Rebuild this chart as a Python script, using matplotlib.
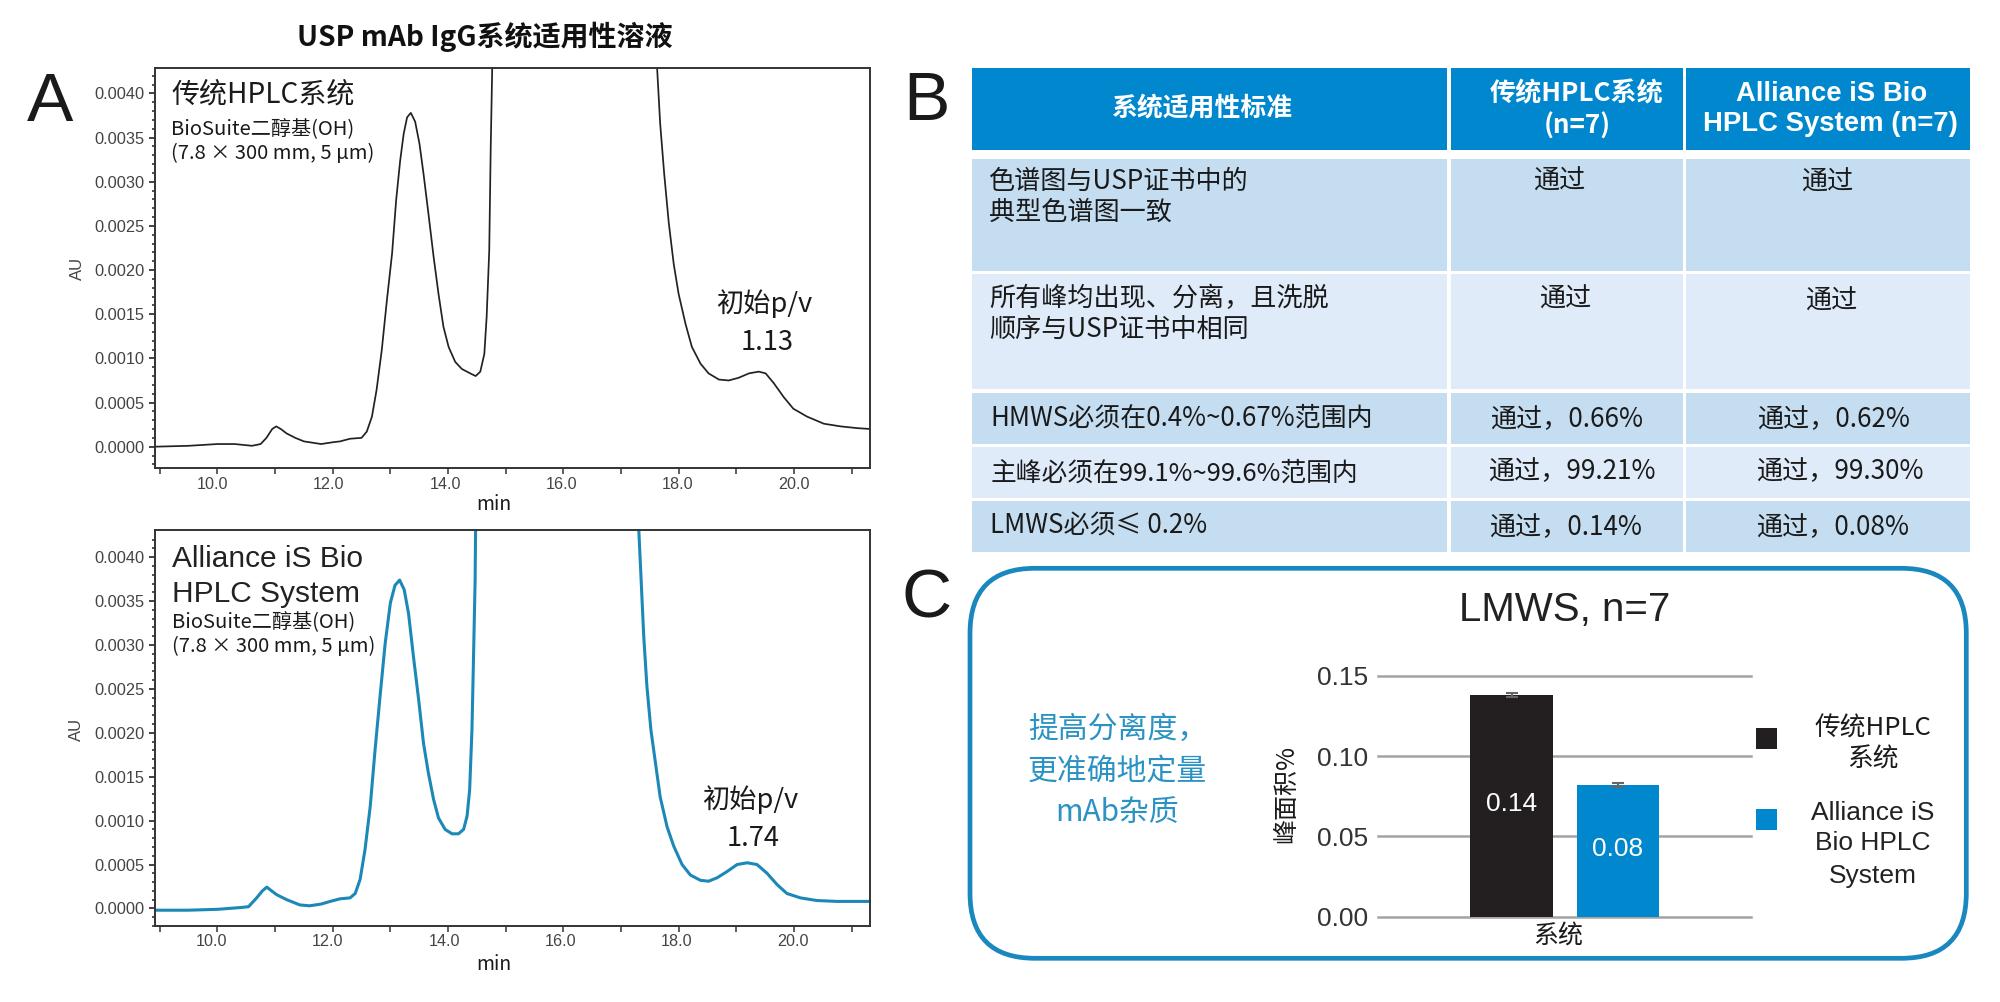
import matplotlib
matplotlib.use("Agg")
import matplotlib.pyplot as plt
from matplotlib.patches import Rectangle, FancyBboxPatch
from matplotlib.transforms import ScaledTranslation

CJK = ['Noto Sans CJK SC', 'DejaVu Sans']
ARIAL = ['Liberation Sans', 'Noto Sans CJK SC']
plt.rcParams['font.family'] = CJK

# ---- chromatogram data ----
t_a = [8.92, 9.5, 10.0, 10.3, 10.6, 10.75, 10.85, 10.95, 11.02, 11.1, 11.2, 11.35, 11.5, 11.8, 12.0, 12.128, 12.3, 12.5, 12.59, 12.68, 12.76,
       12.85, 12.94, 13.03, 13.1, 13.17, 13.23, 13.29, 13.355, 13.43, 13.505, 13.575, 13.66, 13.75, 13.835, 13.92, 14.01, 14.125, 14.24,
       14.385, 14.48, 14.56, 14.63, 14.67, 14.715, 14.74, 14.767, 15.5,
       16.8, 17.626, 17.68, 17.75, 17.83, 17.915, 18.0, 18.12, 18.23, 18.38, 18.52, 18.7, 18.87, 19.04, 19.22, 19.39, 19.51, 19.65, 19.825,
       19.99, 20.23, 20.52, 20.81, 21.1, 21.33]
au_a = [0.0, 0.00001, 0.00003, 0.00003, 0.00001, 0.00003, 0.0001, 0.0002, 0.00023, 0.0002, 0.00015, 0.0001, 0.00006, 0.00003, 0.00005, 0.00006, 0.00009, 0.0001, 0.00017, 0.00034, 0.00064,
        0.00109, 0.00166, 0.00219, 0.00279, 0.00324, 0.00354, 0.00373, 0.00378, 0.00368, 0.00343, 0.00309, 0.00264, 0.00215, 0.00173, 0.00136, 0.00113, 0.00096, 0.00088,
        0.00083, 0.0008, 0.00085, 0.00105, 0.00147, 0.00222, 0.00336, 0.0043, 0.05,
        0.05, 0.0043, 0.00366, 0.00309, 0.00253, 0.00207, 0.00173, 0.00139, 0.00113, 0.00094, 0.00083, 0.00076, 0.00075, 0.00078, 0.00083, 0.00085, 0.00083, 0.00072, 0.00056,
        0.00043, 0.00034, 0.00026, 0.00023, 0.00021, 0.0002]

t_b = [8.92, 9.5, 10.0, 10.4, 10.54, 10.68, 10.78, 10.856, 10.94, 11.03, 11.2, 11.43, 11.6, 11.8, 11.955, 12.13, 12.3, 12.39, 12.475, 12.56, 12.65,
       12.735, 12.82, 12.91, 13.0, 13.08, 13.16, 13.24, 13.315, 13.4, 13.49, 13.575, 13.66, 13.75, 13.835, 13.95, 14.07, 14.18, 14.27,
       14.33, 14.375, 14.415, 14.44, 14.47, 14.478, 15.3,
       16.5, 17.31, 17.35, 17.395, 17.45, 17.52, 17.6, 17.68, 17.8, 17.915, 18.06, 18.205, 18.38, 18.52, 18.67, 18.84, 19.015, 19.19, 19.36,
       19.535, 19.71, 19.88, 20.115, 20.4, 20.75, 21.33]
au_b = [-0.00002, -0.00002, -0.00001, 0.00001, 0.00002, 0.00012, 0.0002, 0.000243, 0.0002, 0.000156, 0.0001, 0.00004, 0.00003, 0.00005, 0.00008, 0.00011, 0.00012, 0.00017, 0.00033, 0.00067, 0.00116,
        0.00181, 0.00241, 0.00302, 0.00348, 0.00368, 0.00374, 0.00363, 0.00336, 0.00287, 0.00238, 0.00188, 0.00154, 0.00124, 0.00103, 0.0009, 0.00085, 0.00085, 0.0009,
        0.00105, 0.00135, 0.00203, 0.00279, 0.00374, 0.0043, 0.05,
        0.05, 0.0043, 0.00374, 0.0031, 0.00253, 0.00203, 0.00165, 0.00127, 0.00093, 0.00071, 0.0005, 0.00038, 0.00032, 0.00031, 0.00035, 0.00042, 0.0005, 0.00052, 0.0005,
        0.0004, 0.00027, 0.00017, 0.00012, 0.00009, 0.00008, 0.00008]

x_ticks = list(range(9, 22))
x_tick_labels = ['', '10.0', '', '12.0', '', '14.0', '', '16.0', '', '18.0', '', '20.0', '']
y_ticks = [0.0, 0.0005, 0.001, 0.0015, 0.002, 0.0025, 0.003, 0.0035, 0.004]
y_tick_labels = ['0.0000', '0.0005', '0.0010', '0.0015', '0.0020', '0.0025', '0.0030', '0.0035', '0.0040']
y_minor = [i / 10000 for i in range(-2, 43)]

# ---- bar chart data ----
bar_systems = ['传统HPLC系统', 'Alliance iS Bio HPLC System']
bar_values = [0.138, 0.082]
bar_errors = [0.001, 0.001]
bar_labels = ['0.14', '0.08']
bar_ticks = [0.0, 0.05, 0.10, 0.15]
bar_tick_labels = ['0.00', '0.05', '0.10', '0.15']

# ---- table text ----
table_header = ['系统适用性标准', '传统HPLC系统\n(n=7)', 'Alliance iS Bio\nHPLC System (n=7)']
table_col1 = ['色谱图与USP证书中的\n典型色谱图一致', '所有峰均出现、分离，且洗脱\n顺序与USP证书中相同',
              'HMWS必须在0.4%~0.67%范围内', '主峰必须在99.1%~99.6%范围内', 'LMWS必须≤ 0.2%']
table_col2 = ['通过', '通过', '通过，0.66%', '通过，99.21%', '通过，0.14%']
table_col3 = ['通过', '通过', '通过，0.62%', '通过，99.30%', '通过，0.08%']

BLUE = '#0087CE'
DARK = '#231F20'
LINE_BLUE = '#1B88B8'
W, H = 2000, 1002
fig = plt.figure(figsize=(W / 100, H / 100), dpi=100, facecolor='white')


def axes_px(l, t, r, b, **kw):
    return fig.add_axes([l / W, 1 - b / H, (r - l) / W, (b - t) / H], **kw)


def chrom(t_px, b_px, t, au, color, lw, ylim, lab_start, lab_step, xpad):
    ax = axes_px(155, t_px, 870, b_px)
    ax.plot(t, au, color=color, lw=lw, solid_joinstyle='round')
    ax.set_xlim(8.917, 21.32)
    ax.set_ylim(*ylim)
    ax.set_xticks(x_ticks)
    ax.set_xticklabels(x_tick_labels, family=ARIAL, fontsize=11.6, color='#444444')
    ax.set_yticks(y_ticks)
    ax.set_yticklabels(y_tick_labels, family=ARIAL, fontsize=11.8, color='#444444')
    ax.set_yticks(y_minor, minor=True)
    ax.tick_params(axis='y', which='major', length=4, width=1.3, color='#333333', pad=3.5)
    ax.tick_params(axis='y', which='minor', length=2, width=1.2, color='#333333')
    ax.tick_params(axis='x', which='major', length=4.5, width=1.1, color='#333333', pad=xpad)
    for i, lb in enumerate(ax.get_xticklabels()):
        off = ScaledTranslation((lab_start + lab_step * i) / 100, 0, fig.dpi_scale_trans)
        lb.set_transform(lb.get_transform() + off)
    for s in ax.spines.values():
        s.set_linewidth(1.4)
        s.set_color('#333333')
    return ax


chrom(67.5, 467.7, t_a, au_a, '#222222', 1.25, (-0.000238, 0.004294), -5.6, 0.55, 2.4)
chrom(530, 926, t_b, au_b, LINE_BLUE, 2.2, (-0.000197, 0.00431), -6.6, 0.55, 1.2)

# ---- bar chart ----
axb = axes_px(1378.4, 675.7, 1751, 916.7)
axb.patch.set_alpha(0)
xpos = list(range(len(bar_values)))
axb.set_xlim(-1.252, 2.25)
axb.set_ylim(0, 0.15)
axb.bar(xpos, bar_values, width=0.78, color=[DARK, BLUE], zorder=3)
axb.errorbar(xpos, bar_values, yerr=bar_errors, fmt='none', ecolor='#666666', elinewidth=1.5, capsize=4, capthick=1.5, zorder=4)
axb.set_yticks(bar_ticks)
axb.set_yticklabels(bar_tick_labels, family=ARIAL, fontsize=19, color='#333333')
axb.set_xticks([])
axb.grid(axis='y', color='#A3A3A3', lw=1.8, zorder=1)
axb.tick_params(axis='y', length=0, pad=7.5)
for s in axb.spines.values():
    s.set_visible(False)
for g in axb.get_ygridlines():
    g.set_clip_on(False)
for x, v, lb, yy in zip(xpos, bar_values, bar_labels, [0.0700, 0.0420]):
    axb.text(x, yy, lb, color='white', family=ARIAL, fontsize=19, ha='center', va='center', zorder=5)

# ---- overlay in pixel coordinates ----
ov = fig.add_axes([0, 0, 1, 1], zorder=10)
ov.set_xlim(0, W)
ov.set_ylim(H, 0)
ov.axis('off')


def T(x, y, s, size, ha='left', fam=CJK, weight='normal', color='#1a1a1a', **kw):
    ov.text(x, y, s, fontsize=size, ha=ha, va='center', family=fam, fontweight=weight, color=color, **kw)


T(485, 37, 'USP mAb IgG系统适用性溶液', 20.2, ha='center', weight='bold', color='#111111')
T(49.6, 103, 'A', 50, ha='center', fam=ARIAL)
T(926, 102, 'B', 50, ha='center', fam=ARIAL)
T(927, 600, 'C', 50, ha='center', fam=ARIAL)

T(171, 94.5, '传统HPLC系统', 20.2)
T(171, 129, 'BioSuite二醇基(OH)', 14.5)
T(171, 153, '(7.8 × 300 mm, 5 µm)', 14.5)
T(764, 304, '初始p/v', 19.6, ha='center')
T(766.7, 343, '1.13', 19.6, ha='center')
T(77.5, 268, 'AU', 12, ha='center', fam=ARIAL, rotation=90, color='#444444')
T(494, 504, 'min', 14, ha='center')

T(172.5, 559, 'Alliance iS Bio', 21.5, fam=ARIAL, color='#222222')
T(172.5, 594, 'HPLC System', 21.5, fam=ARIAL, color='#222222')
T(172.5, 622, 'BioSuite二醇基(OH)', 14.5)
T(172.5, 646, '(7.8 × 300 mm, 5 µm)', 14.5)
T(750, 800, '初始p/v', 19.6, ha='center')
T(752.7, 839, '1.74', 19.6, ha='center')
T(76, 729, 'AU', 12, ha='center', fam=ARIAL, rotation=90, color='#444444')
T(494, 964, 'min', 14, ha='center')

# table
col_x = [(971.6, 1447), (1450.7, 1683), (1685.7, 1969.8)]
row_y = [(68.4, 149.5), (159, 270.8), (274.2, 389.4), (393.2, 443.5), (446.9, 497.6), (501, 551.7)]
row_col = [BLUE, '#C5DDF1', '#DFEBF8', '#C5DDF1', '#DFEBF8', '#C5DDF1']
for (y0, y1), c in zip(row_y, row_col):
    for (x0, x1) in col_x:
        ov.add_patch(Rectangle((x0, y0), x1 - x0, y1 - y0, fc=c, ec='none', zorder=0))

T(1201.6, 109, table_header[0], 18.6, ha='center', weight='bold', color='white')
a, b = table_header[1].split('\n')
T(1577, 94, a, 18.8, ha='center', weight='bold', color='white')
T(1577, 126, b, 18.8, ha='center', weight='bold', color='white')
a, b = table_header[2].split('\n')
T(1832, 94, a, 19.8, ha='center', fam=ARIAL, weight='bold', color='white')
T(1830, 124, b, 19.8, ha='center', fam=ARIAL, weight='bold', color='white')

for s, ys in zip(table_col1[:2], [(181.5, 212.5), (298.5, 329.5)]):
    a, b = s.split('\n')
    T(988.8, ys[0], a, 18.8)
    T(988.8, ys[1], b, 18.8)
for s, y, x, fs in zip(table_col1[2:], [418.5, 473.5, 525], [990, 991, 990], [18.7, 18.55, 18.7]):
    T(x, y, s, fs)
for s, x, y in zip(table_col2, [1559.4, 1565, 1566.4, 1572, 1565], [181, 299, 420, 472, 528]):
    T(x, y, s, 18.8, ha='center')
for s, x, y in zip(table_col3, [1826.7, 1831.6, 1833, 1839.3, 1832.3], [182, 301, 420, 472, 528]):
    T(x, y, s, 18.8, ha='center')

# panel C
R = 65
ov.add_patch(FancyBboxPatch((970 + R, 568.3 + R), 1966.3 - 970 - 2 * R, 958.3 - 568.3 - 2 * R,
                            boxstyle=f'round,pad={R},rounding_size={R}', fc='none', ec='#1A87BF', lw=3.4))
T(1565, 610, 'LMWS, n=7', 29, ha='center', fam=ARIAL, color='#222222')
for s, y in zip(['提高分离度，', '更准确地定量', 'mAb杂质'], [729.5, 771.5, 813]):
    T(1117.5, y, s, 21.5, ha='center', color='#2A93C4')
T(1286, 794, '峰面积%', 18, ha='center', rotation=90)
T(1558, 936, '系统', 18, ha='center')
ov.add_patch(Rectangle((1755.8, 728), 21.1, 21, fc=DARK, ec='none'))
ov.add_patch(Rectangle((1755.8, 809), 21.1, 21, fc=BLUE, ec='none'))
T(1873, 728.5, '传统HPLC', 18.5, ha='center')
T(1873, 759.5, '系统', 18.5, ha='center')
T(1873, 812.5, 'Alliance iS', 19, ha='center', fam=ARIAL, color='#222222')
T(1873, 843, 'Bio HPLC', 19, ha='center', fam=ARIAL, color='#222222')
T(1873, 876, 'System', 19, ha='center', fam=ARIAL, color='#222222')

fig.savefig('out.png', dpi=100)
